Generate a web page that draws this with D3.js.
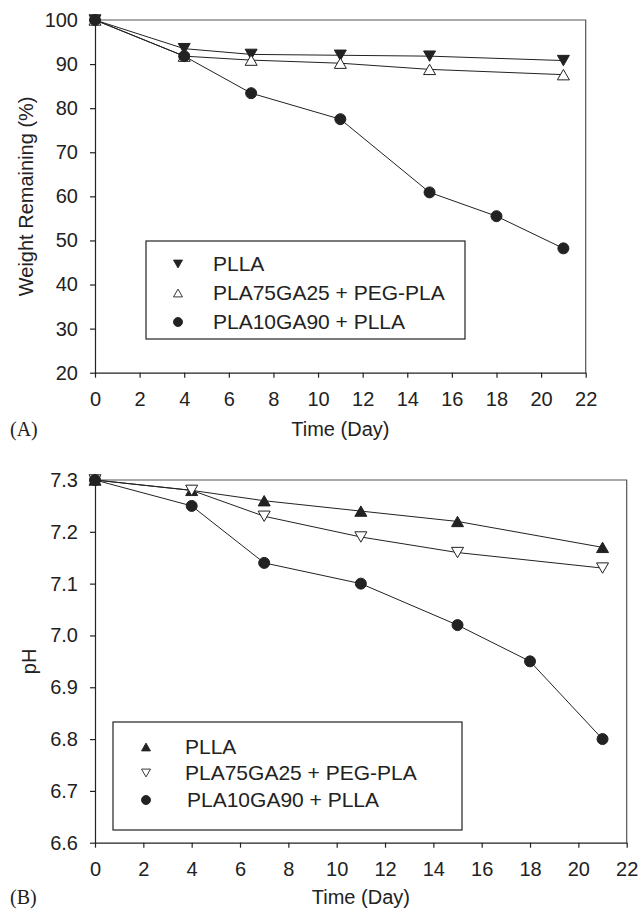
<!DOCTYPE html>
<html>
  <head>
    <meta charset="UTF-8" />
    <title>Weight remaining and pH</title>
    <script src="https://d3js.org/d3.v7.min.js"></script>
    <style>
      body { margin: 0; background: #fff; }
      text { font-family: "Liberation Sans", Arial, sans-serif; fill: #222; }
      .panel-tag { font-family: "Liberation Serif", "Times New Roman", serif; }
    </style>
  </head>
  <body>
    <svg width="640" height="912"></svg>
    <script>
      // data
      var days = [0, 4, 7, 11, 15, 21];
      var daysC = [0, 4, 7, 11, 15, 18, 21];
      var xTicks = [0, 2, 4, 6, 8, 10, 12, 14, 16, 18, 20, 22];

      var seriesNames = ["PLLA", "PLA75GA25 + PEG-PLA", "PLA10GA90 + PLLA"];

      var weightPLLA = [100, 93.5, 92.2, 92.0, 91.8, 90.8];
      var weightPLA75 = [100, 91.8, 90.9, 90.2, 88.8, 87.6];
      var weightPLA10 = [100, 91.8, 83.4, 77.5, 60.9, 55.5, 48.2];
      var weightTicks = [20, 30, 40, 50, 60, 70, 80, 90, 100];

      var phPLLA = [7.3, 7.28, 7.26, 7.24, 7.22, 7.17];
      var phPLA75 = [7.3, 7.28, 7.23, 7.19, 7.16, 7.13];
      var phPLA10 = [7.3, 7.25, 7.14, 7.1, 7.02, 6.95, 6.8];
      var phTicks = [6.6, 6.7, 6.8, 6.9, 7.0, 7.1, 7.2, 7.3];

      var svg = d3.select("svg");

      function markerPath(type, s) {
        var h = s * 0.866;
        if (type == "up") return "M0," + (-h / 2) + "L" + s / 2 + "," + h / 2 + "L" + (-s / 2) + "," + h / 2 + "Z";
        if (type == "down") return "M0," + h / 2 + "L" + s / 2 + "," + (-h / 2) + "L" + (-s / 2) + "," + (-h / 2) + "Z";
        return d3.symbol().type(d3.symbolCircle).size(Math.PI * s * s / 4)();
      }

      function drawPanel(opt) {
        var g = svg.append("g");
        var x = d3.scaleLinear().domain([0, 22]).range([95, opt.right]);
        var y = d3.scaleLinear().domain(opt.yDomain).range([opt.bottom, opt.top]);

        // frame top and right
        g.append("path")
          .attr("d", "M" + x(0) + "," + y.range()[1] + "H" + x(22) + "V" + y.range()[0])
          .attr("fill", "none")
          .attr("stroke", "#555")
          .attr("stroke-width", 1.2);

        var xa = g.append("g")
          .attr("transform", "translate(0," + opt.bottom + ")")
          .call(d3.axisBottom(x).tickValues(xTicks).tickSize(5).tickPadding(14).tickSizeOuter(0));
        var ya = g.append("g")
          .attr("transform", "translate(95,0)")
          .call(d3.axisLeft(y).tickValues(opt.yTicks).tickFormat(opt.fmt).tickSize(5).tickPadding(12).tickSizeOuter(0));
        [xa, ya].forEach(function (a) {
          a.selectAll("text").attr("font-size", 20).attr("font-family", null);
          a.selectAll("line,path").attr("stroke", "#222").attr("stroke-width", 1.2);
        });

        var line = d3.line()
          .x(function (d) { return x(d[0]); })
          .y(function (d) { return y(d[1]); });

        opt.series.forEach(function (s) {
          var pts = s.xs.map(function (d, i) { return [d, s.vals[i]]; });
          g.append("path")
            .datum(pts)
            .attr("d", line)
            .attr("fill", "none")
            .attr("stroke", "#222")
            .attr("stroke-width", 1);
        });
        opt.series.forEach(function (s) {
          var pts = s.xs.map(function (d, i) { return [d, s.vals[i]]; });
          g.selectAll(null)
            .data(pts)
            .enter()
            .append("path")
            .attr("transform", function (d) { return "translate(" + x(d[0]) + "," + y(d[1]) + ")"; })
            .attr("d", markerPath(s.type, s.type == "circle" ? 11 : 12))
            .attr("fill", s.open ? "#fff" : "#222")
            .attr("stroke", "#222")
            .attr("stroke-width", 1);
        });

        // legend
        var lg = opt.legend;
        g.append("rect")
          .attr("x", lg.x0).attr("y", lg.y0)
          .attr("width", lg.x1 - lg.x0).attr("height", lg.y1 - lg.y0)
          .attr("fill", "#fff").attr("stroke", "#222").attr("stroke-width", 1.2);
        opt.series.forEach(function (s, i) {
          g.append("path")
            .attr("transform", "translate(" + lg.sx + "," + lg.rows[i] + ")")
            .attr("d", markerPath(s.type, 9))
            .attr("fill", s.open ? "#fff" : "#222")
            .attr("stroke", "#222")
            .attr("stroke-width", 0.9);
          g.append("text")
            .attr("x", lg.tx[i]).attr("y", lg.rows[i])
            .attr("dy", "0.35em")
            .attr("font-size", 21)
            .text(seriesNames[i]);
        });

        g.append("text")
          .attr("transform", "translate(" + opt.yLabelX + "," + (opt.top + opt.bottom) / 2 + ") rotate(-90)")
          .attr("text-anchor", "middle")
          .attr("font-size", 20)
          .text(opt.yLabel);
        g.append("text")
          .attr("x", (95 + opt.right) / 2).attr("y", opt.xLabelY)
          .attr("dy", "0.35em")
          .attr("text-anchor", "middle")
          .attr("font-size", 20)
          .text("Time (Day)");
        g.append("text")
          .attr("class", "panel-tag")
          .attr("x", 10).attr("y", opt.xLabelY)
          .attr("dy", "0.35em")
          .attr("font-size", 20)
          .text(opt.tag);
      }

      drawPanel({
        right: 585.7, top: 20, bottom: 372.7,
        yDomain: [20, 100], yTicks: weightTicks, fmt: d3.format("d"),
        yLabel: "Weight Remaining (%)", yLabelX: 33, xLabelY: 429, tag: "(A)",
        series: [
          { xs: days, vals: weightPLLA, type: "down", open: false },
          { xs: days, vals: weightPLA75, type: "up", open: true },
          { xs: daysC, vals: weightPLA10, type: "circle", open: false }
        ],
        legend: { x0: 146, x1: 465, y0: 241, y1: 339, sx: 178, tx: [213, 213, 213], rows: [264, 293, 322] }
      });

      drawPanel({
        right: 626.7, top: 480, bottom: 842.7,
        yDomain: [6.6, 7.3], yTicks: phTicks, fmt: d3.format(".1f"),
        yLabel: "pH", yLabelX: 36, xLabelY: 897, tag: "(B)",
        series: [
          { xs: days, vals: phPLLA, type: "up", open: false },
          { xs: days, vals: phPLA75, type: "down", open: true },
          { xs: daysC, vals: phPLA10, type: "circle", open: false }
        ],
        legend: { x0: 113, x1: 462, y0: 722, y1: 830, sx: 146, tx: [185, 185, 187], rows: [747, 773, 800] }
      });
    </script>
  </body>
</html>
